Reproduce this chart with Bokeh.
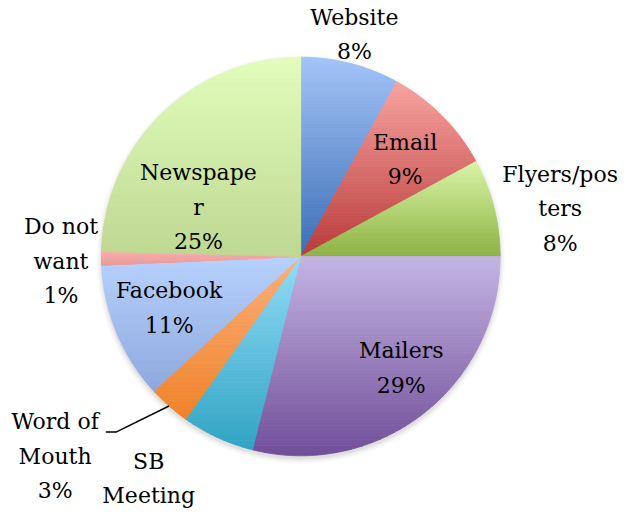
import numpy as np
from bokeh.plotting import figure
from bokeh.models import Range1d
from bokeh.embed import file_html
from bokeh.resources import INLINE
from bokeh.core.properties import value

# ---------------- data ----------------
categories = ["Website", "Email", "Flyers/posters", "Mailers", "SB Meeting",
              "Word of Mouth", "Facebook", "Do not want", "Newspaper"]
shares = [8.0, 9.1, 7.9, 28.9, 5.9, 3.4, 11.1, 1.1, 24.6]
pct_labels = ["8%", "9%", "8%", "29%", "6%", "3%", "11%", "1%", "25%"]
label_names = ["Website", "Email", "Flyers/pos\nters", "Mailers", "SB\nMeeting",
               "Word of\nMouth", "Facebook", "Do not\nwant", "Newspape\nr"]
# the SB Meeting percentage falls below the bottom edge of the original image
pct_visible = [True, True, True, True, False, True, True, True, True]

# ---------------- style ----------------
top_colors = ["#A3C4F8", "#F8A3A0", "#D9F4A6", "#C4B4E3", "#92DCF8",
              "#FBB07A", "#B7D1FF", "#FAB0AE", "#E2FDBC"]
bottom_colors = ["#3A6DB5", "#B83B39", "#8DB243", "#704E98", "#30A3C3",
                 "#F0822A", "#8DA8DC", "#E89C9A", "#BED892"]

W, H = 623, 509
REF_W, REF_H = 639, 525
KX, KY = W / REF_W, H / REF_H


def sx(x):
    return x * KX


def sy(y):
    return (REF_H - y) * KY


CX, CY = sx(308), sy(264)
R = 205 * 0.5 * (KX + KY)
FONT_PX = 22
# label block centres in reference pixels (layout)
label_ref = [(363, 35), (415, 164), (574, 215), (411, 379), (152, 493),
             (56, 470), (173, 317), (62, 269), (203, 213)]
leader_ref = [(108, 445), (119, 445)]  # elbow of the Word of Mouth leader


def hex2rgb(h):
    h = h.lstrip("#")
    return np.array([int(h[i:i + 2], 16) for i in (0, 2, 4)], dtype=float)


def rgb2hex(c):
    return "#%02x%02x%02x" % tuple(int(round(v)) for v in c)


def clip(poly, y0, keep_above):
    out = []
    n = len(poly)
    for i in range(n):
        a = poly[i - 1]
        b = poly[i]
        ina = a[1] >= y0 if keep_above else a[1] <= y0
        inb = b[1] >= y0 if keep_above else b[1] <= y0
        if inb:
            if not ina:
                t = (y0 - a[1]) / (b[1] - a[1])
                out.append((a[0] + t * (b[0] - a[0]), y0))
            out.append(b)
        elif ina:
            t = (y0 - a[1]) / (b[1] - a[1])
            out.append((a[0] + t * (b[0] - a[0]), y0))
    return out


p = figure(width=W, height=H, output_backend="svg", toolbar_location=None,
           x_range=Range1d(0, W), y_range=Range1d(0, H),
           min_border=0, min_border_left=0, min_border_right=0,
           min_border_top=0, min_border_bottom=0)
p.axis.visible = False
p.grid.visible = False
p.outline_line_color = None
p.background_fill_color = "white"

# soft shadow
for dr, a in [(5, 0.04), (3.5, 0.05), (2, 0.07), (0.5, 0.10)]:
    p.circle(x=[CX], y=[CY - 3], radius=R + dr, fill_color="#808080",
             fill_alpha=a, line_color=None)

total = float(sum(shares))
cum = np.concatenate([[0.0], np.cumsum(shares)]) / total

xs_all, ys_all, cols = [], [], []
NB = 60
for i in range(len(shares)):
    f0, f1 = cum[i], cum[i + 1]
    npts = max(3, int((f1 - f0) * 720))
    th = np.pi / 2 - 2 * np.pi * np.linspace(f0, f1, npts)
    poly = [(CX, CY)] + [(CX + R * np.cos(t), CY + R * np.sin(t)) for t in th]
    ymin = min(q[1] for q in poly)
    ymax = max(q[1] for q in poly)
    ctop, cbot = hex2rgb(top_colors[i]), hex2rgb(bottom_colors[i])
    edges = np.linspace(ymin, ymax, NB + 1)
    for k in range(NB):
        lo, hi = edges[k], edges[k + 1]
        part = clip(clip(poly, lo, True), hi, False)
        if len(part) < 3:
            continue
        t = (ymax - 0.5 * (lo + hi)) / (ymax - ymin)
        col = rgb2hex(ctop + (cbot - ctop) * t)
        xs_all.append([q[0] for q in part])
        ys_all.append([q[1] for q in part])
        cols.append(col)

p.patches(xs=xs_all, ys=ys_all, fill_color=cols, line_color=cols, line_width=0.8)

# leader line for Word of Mouth
wi = categories.index("Word of Mouth")
mid = 0.5 * (cum[wi] + cum[wi + 1])
tm = np.pi / 2 - 2 * np.pi * mid
ex, ey = CX + R * np.cos(tm), CY + R * np.sin(tm)
p.line(x=[sx(leader_ref[0][0]), sx(leader_ref[1][0]), ex],
       y=[sy(leader_ref[0][1]), sy(leader_ref[1][1]), ey],
       line_color="black", line_width=1.5)

texts = [n + ("\n" + pc if show else "")
         for n, pc, show in zip(label_names, pct_labels, pct_visible)]
p.text(x=[sx(q[0]) for q in label_ref], y=[sy(q[1]) for q in label_ref],
       text=texts, text_font=value("DejaVu Serif"),
       text_font_size=f"{FONT_PX}px",
       text_align="center", text_baseline="middle", text_color="black",
       text_line_height=1.38)

open("out.html", "w").write(file_html(p, INLINE))
